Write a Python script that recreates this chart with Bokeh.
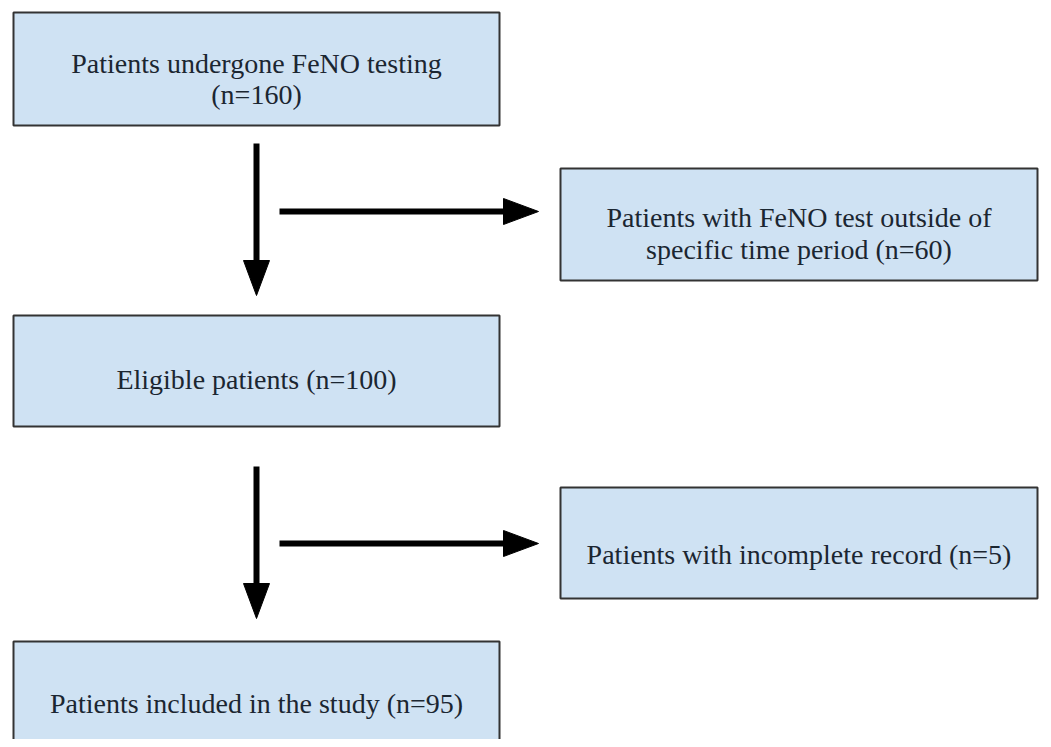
from bokeh.plotting import figure
from bokeh.models import Range1d, ColumnDataSource
from bokeh.core.properties import value
from bokeh.embed import file_html
from bokeh.resources import INLINE

# --- content ---
box_labels = [
    "Patients undergone FeNO testing\n(n=160)",
    "Patients with FeNO test outside of\nspecific time period (n=60)",
    "Eligible patients (n=100)",
    "Patients with incomplete record (n=5)",
    "Patients included in the study (n=95)",
]
counts = [160, 60, 100, 5, 95]

# --- layout (pixel coordinates) ---
left_x0, left_x1 = 13, 499
right_x0, right_x1 = 560, 1037
box_geom = [
    (left_x0, left_x1, 12, 125),
    (right_x0, right_x1, 168, 280),
    (left_x0, left_x1, 315, 426),
    (right_x0, right_x1, 487, 598),
    (left_x0, left_x1, 641, 800),
]
# baselines of each text line per box
text_baselines = [[63, 94], [217, 249], [379], [554], [703]]
# arrows: (x0, y0, x1, y1)
arrows = [
    (256, 143, 256, 295),
    (279, 211, 538, 211),
    (256, 466, 256, 618),
    (279, 543, 538, 543),
]

W, H = 1043, 739
p = figure(width=W, height=H, output_backend="svg", toolbar_location=None,
           x_range=Range1d(0, W), y_range=Range1d(H, 0),
           min_border=0)
p.axis.visible = False
p.grid.visible = False
p.outline_line_color = None
p.background_fill_color = "white"

src = ColumnDataSource(dict(
    left=[g[0] for g in box_geom], right=[g[1] for g in box_geom],
    top=[g[2] for g in box_geom], bottom=[g[3] for g in box_geom]))
p.quad(left="left", right="right", top="top", bottom="bottom", source=src,
       fill_color="#cfe2f3", line_color="#333333", line_width=2)

# text
tx, ty, tt = [], [], []
for (x0, x1, y0, y1), lab, bls in zip(box_geom, box_labels, text_baselines):
    cx = (x0 + x1) / 2
    for ln, b in zip(lab.split("\n"), bls):
        tx.append(cx)
        ty.append(b)
        tt.append(ln)
p.text(x=tx, y=ty, text=tt, text_font=value("Liberation Serif"),
       text_font_size="28px", text_color="#1b2631",
       text_align="center", text_baseline="alphabetic")

# arrows: shafts + triangular heads
head_len, head_w = 35, 26
for (x0, y0, x1, y1) in arrows:
    if x0 == x1:
        p.line([x0, x1], [y0, y1 - head_len + 2], line_width=6, line_color="black")
        p.patch([x1 - head_w / 2, x1 + head_w / 2, x1],
                [y1 - head_len, y1 - head_len, y1], color="black")
    else:
        p.line([x0, x1 - head_len + 2], [y0, y1], line_width=6, line_color="black")
        p.patch([x1 - head_len, x1 - head_len, x1],
                [y1 - head_w / 2, y1 + head_w / 2, y1], color="black")

open("out.html", "w").write(file_html(p, INLINE))
